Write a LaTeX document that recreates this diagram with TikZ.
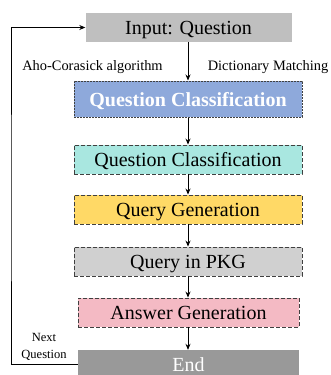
\documentclass[tikz,border=0pt]{standalone}
\usepackage{fontspec}
\setmainfont{Liberation Serif}
\usetikzlibrary{arrows.meta}

\definecolor{inputgray}{HTML}{BFBFBF}
\definecolor{classblue}{HTML}{8EA9DB}
\definecolor{classteal}{HTML}{A9E7E0}
\definecolor{querygold}{HTML}{FFD966}
\definecolor{pkggray}{HTML}{D0D0D0}
\definecolor{answerpink}{HTML}{F4BAC4}
\definecolor{endgray}{HTML}{999999}
\definecolor{edgegray}{HTML}{404040}

\tikzset{
  stage/.style={rectangle, inner sep=0pt, minimum width=228pt, minimum height=29pt,
    font=\fontsize{20}{22}\selectfont, text height=18pt, text depth=4pt},
  dashedge/.style={draw=edgegray, line width=0.9pt, dash pattern=on 4pt off 2pt},
  finedash/.style={draw=edgegray, line width=1pt, dash pattern=on 2pt off 1pt},
  flow/.style={-{Stealth[length=6pt,width=5pt]}, line width=0.8pt},
  sidenote/.style={font=\fontsize{14.4}{16}\selectfont, anchor=base},
}

\begin{document}
\begin{tikzpicture}[x=1pt, y=-1pt]
  \useasboundingbox (0,0) rectangle (330,375);
  \begin{scope}
    \clip (0,0) rectangle (330,375);

    % pipeline stages
    \node[stage, fill=inputgray, minimum width=206pt] (input) at (188.5,27.5) {Input: Question};
    \node[stage, fill=classblue, finedash, minimum height=36pt, text=white,
          font=\fontsize{20}{22}\selectfont\bfseries] (classA) at (188,99) {Question Classification};
    \node[stage, fill=classteal, dashedge] (classB) at (188,159.5) {Question Classification};
    \node[stage, fill=querygold, dashedge] (querygen) at (188,209.5) {Query Generation};
    \node[stage, fill=pkggray, dashedge] (pkg) at (188,261.5) {Query in PKG};
    \node[stage, fill=answerpink, dashedge, minimum width=221pt] (answer) at (188.5,312.5) {Answer Generation};
    \node[stage, fill=endgray, minimum width=221pt, text=white] (finish) at (188.5,364.5) {End};

    % labels beside the first step
    \node[sidenote] (aho) at (92.5,70.5) {Aho-Corasick algorithm};
    \node[sidenote] (dict) at (268,70.5) {Dictionary Matching};
    \node[align=center, font=\fontsize{12.5}{16.5}\selectfont, inner sep=0pt] (next) at (44,347) {Next\\Question};

    % forward flow
    \draw[flow] (input.south -| classA) -- (classA.north);
    \draw[flow] (classA) -- (classB);
    \draw[flow] (classB) -- (querygen);
    \draw[flow] (querygen) -- (pkg);
    \draw[flow] (pkg.south) -- (pkg.south |- answer.north);
    \draw[flow] (pkg.south |- answer.south) -- (pkg.south |- finish.north);

    % loop back to the next question
    \coordinate (loop) at (11,200);
    \draw[flow] (finish.west) -| (loop) |- (input.west);
  \end{scope}
\end{tikzpicture}
\end{document}
